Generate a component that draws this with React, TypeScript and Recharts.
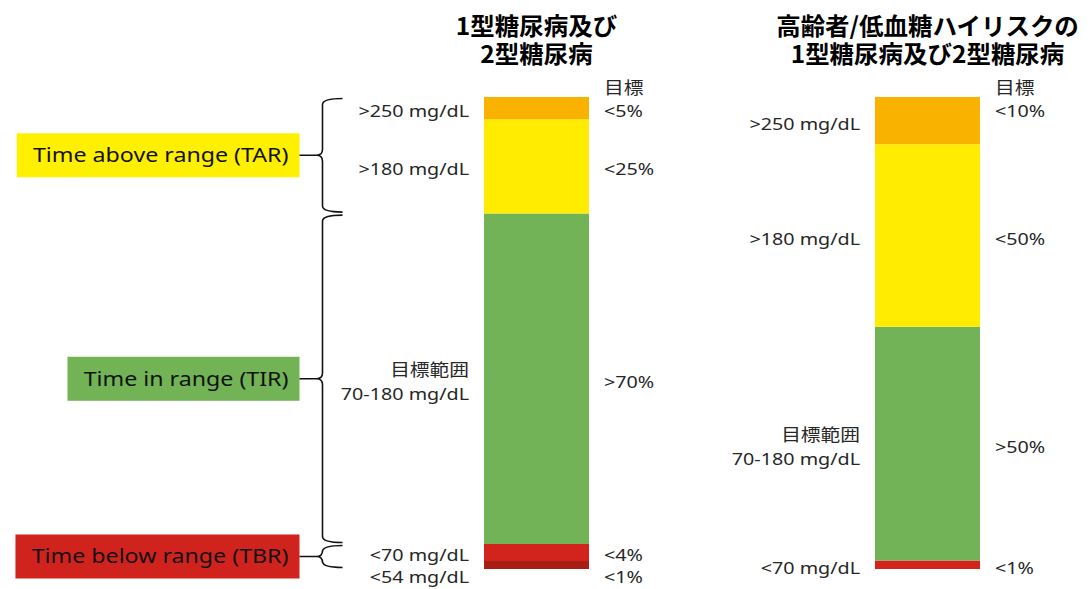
import { BarChart, Bar, XAxis, YAxis, LabelList, ReferenceArea } from "recharts";

// two target profiles, one bar each
const categories = ["1型糖尿病及び2型糖尿病", "高齢者/低血糖ハイリスクの1型糖尿病及び2型糖尿病"];
const titleLines = [
  ["1型糖尿病及び", "2型糖尿病"],
  ["高齢者/低血糖ハイリスクの", "1型糖尿病及び2型糖尿病"],
];

// share of the day (%) per glucose band
const veryLow = [1.7, 0];
const low = [3.6, 1.8];
const inRange = [70, 49.5];
const high = [20, 38.7];
const veryHigh = [4.7, 10];

// band labels (left of bar) and targets (right of bar)
const veryLowRange = ["<54 mg/dL", ""];
const lowRange = ["<70 mg/dL", "<70 mg/dL"];
const inRangeRange = [["目標範囲", "70-180 mg/dL"], ["目標範囲", "70-180 mg/dL"]];
const highRange = [">180 mg/dL", ">180 mg/dL"];
const veryHighRange = [">250 mg/dL", ">250 mg/dL"];

const veryLowGoal = ["<1%", ""];
const lowGoal = ["<4%", "<1%"];
const inRangeGoal = [">70%", ">50%"];
const highGoal = ["<25%", "<50%"];
const veryHighGoal = ["<5%", "<10%"];

const goalHeader = "目標";

const FONT = "'Noto Sans', 'Noto Sans CJK JP', sans-serif";
const TITLE_FONT = "'Noto Sans CJK JP', sans-serif";
const INK = "#262626";
const STRETCH = 1.16;

type Series = {
  key: string;
  values: number[];
  color: string;
  range: (string | string[])[];
  goal: string[];
};

const series: Series[] = [
  { key: "veryLow", values: veryLow, color: "#A81E14", range: veryLowRange, goal: veryLowGoal },
  { key: "low", values: low, color: "#D3231D", range: lowRange, goal: lowGoal },
  { key: "inRange", values: inRange, color: "#73B357", range: inRangeRange, goal: inRangeGoal },
  { key: "high", values: high, color: "#FFEC00", range: highRange, goal: highGoal },
  { key: "veryHigh", values: veryHigh, color: "#F9B200", range: veryHighRange, goal: veryHighGoal },
];

const groups = [
  { name: "Time below range (TBR)", keys: ["veryLow", "low"], color: "#D1231D" },
  { name: "Time in range (TIR)", keys: ["inRange"], color: "#72B356" },
  { name: "Time above range (TAR)", keys: ["high", "veryHigh"], color: "#FFF000" },
];

const data = categories.map((name, i) => {
  const row: Record<string, number | string> = { name, pos: i };
  series.forEach((s) => (row[s.key] = s.values[i]));
  return row;
});

const measure = (text: string, font: string) => {
  const ctx = document.createElement("canvas").getContext("2d");
  if (!ctx) return text.length * 10;
  ctx.font = font;
  return ctx.measureText(text).width;
};

const Txt = ({ x, y, anchor, size, children, weight, family, stretch = STRETCH, color = INK }: any) => (
  <text
    transform={`translate(${x},${y}) scale(${stretch},1)`}
    textAnchor={anchor}
    fontSize={size}
    fontWeight={weight}
    fontFamily={family ?? FONT}
    fill={color}
  >
    {children}
  </text>
);

const makeLabel = (s: Series, top: boolean) => (props: any) => {
  const vb = props.viewBox ?? props;
  const { x, y, width, height } = vb;
  const i = props.index;
  const cy = y + height / 2;
  const range = s.range[i];
  const goal = s.goal[i];
  const lines = Array.isArray(range) ? range : range ? [range] : [];
  // thinnest band sits right under "<70", push its text below the bar
  const shift = s.key === "veryLow" ? 9 : 0;
  const base = cy + 9 + shift;
  return (
    <g>
      {lines.map((t, k) => (
        <Txt key={k} x={x - 15} y={base + (k - (lines.length - 1) / 2) * 24} anchor="end" size={17}>
          {t}
        </Txt>
      ))}
      {goal && !top && (
        <Txt x={x + width + 15} y={base} anchor="start" size={17}>
          {goal}
        </Txt>
      )}
      {top && (
        <>
          <Txt x={x + width + 15} y={y - 3} anchor="start" size={17}>
            {goalHeader}
          </Txt>
          <Txt x={x + width + 15} y={y + 20} anchor="start" size={17}>
            {goal}
          </Txt>
          {titleLines[i].map((t, k) => (
            <Txt
              key={k}
              x={x + width / 2}
              y={y - 62 + k * 28}
              anchor="middle"
              size={24}
              weight="bold"
              family={TITLE_FONT}
              stretch={1.02}
              color="#000"
            >
              {t}
            </Txt>
          ))}
        </>
      )}
    </g>
  );
};

const Brace = (name: string, color: string) => (props: any) => {
  const { x, y, height } = props;
  const t = y + 1.5;
  const b = y + height - 1.5;
  const m = (t + b) / 2;
  const xs = x - 214;
  const xa = x - 194;
  const xt = x - 237;
  const r = 6;
  const w = measure(name, `20px ${FONT}`) * STRETCH + 27;
  return (
    <g>
      <rect x={xt - w} y={m - 22} width={w} height={44} fill={color} />
      <Txt x={xt - 11} y={m + 7} anchor="end" size={20} color="#111">
        {name}
      </Txt>
      <path
        d={`M${xa},${t} Q${xs},${t} ${xs},${t + r} L${xs},${m - r} Q${xs},${m} ${xs - r},${m} L${xt},${m} M${xs - r},${m} Q${xs},${m} ${xs},${m + r} L${xs},${b - r} Q${xs},${b} ${xa},${b}`}
        fill="none"
        stroke="#111"
        strokeWidth={1.6}
      />
    </g>
  );
};

const sumOf = (keys: string[]) => keys.reduce((acc, k) => acc + (data[0][k] as number), 0);

export default function App() {
  const bounds: { y1: number; y2: number }[] = [];
  let acc = 0;
  groups.forEach((g) => {
    const v = sumOf(g.keys);
    bounds.push({ y1: acc, y2: acc + v });
    acc += v;
  });

  return (
    <div style={{ position: "absolute", left: 0, top: 0, width: 1091, height: 589, background: "#fff" }}>
      <BarChart
        width={1091}
        height={589}
        data={data}
        margin={{ top: 97, right: 163.5, bottom: 20, left: 536.5 }}
      >
        <XAxis type="number" dataKey="pos" domain={[0, 1]} ticks={[0, 1]} hide />
        <YAxis type="number" domain={[0, 100]} hide />
        {groups.map((g, k) => (
          <ReferenceArea
            key={g.name}
            y1={bounds[k].y1}
            y2={bounds[k].y2}
            ifOverflow="visible"
            shape={Brace(g.name, g.color)}
          />
        ))}
        {series.map((s, k) => (
          <Bar
            key={s.key}
            dataKey={s.key}
            stackId="a"
            fill={s.color}
            barSize={105}
            isAnimationActive={false}
          >
            <LabelList dataKey={s.key} content={makeLabel(s, k === series.length - 1)} />
          </Bar>
        ))}
      </BarChart>
    </div>
  );
}
